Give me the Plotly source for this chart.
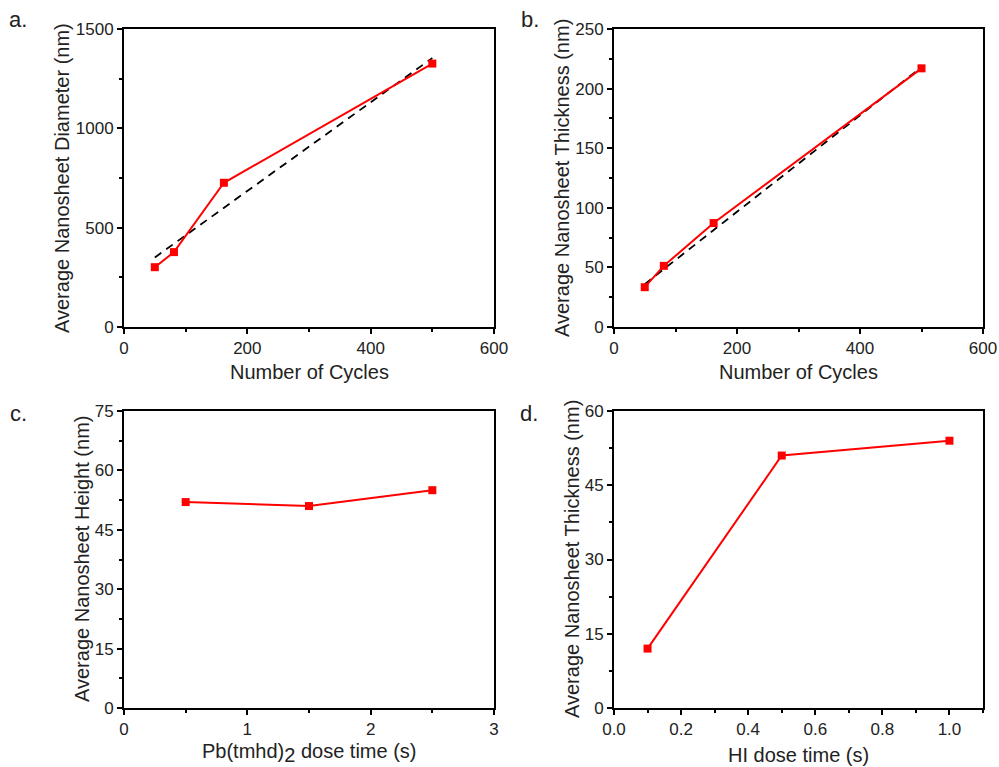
import plotly.graph_objects as go

# Panel a: diameter vs cycles
a_x = [50, 81, 162, 500]
a_y = [301, 377, 726, 1326]
a_fit_x = [50, 500]
a_fit_y = [350, 1354]

# Panel b: thickness vs cycles
b_x = [50, 81, 162, 500]
b_y = [33.4, 51.3, 87.2, 217]
b_fit_x = [50, 500]
b_fit_y = [36, 218]

# Panel c: height vs Pb(tmhd)2 dose time
c_x = [0.5, 1.5, 2.5]
c_y = [52, 51, 55]

# Panel d: thickness vs HI dose time
d_x = [0.1, 0.5, 1.0]
d_y = [12, 51, 54]

W, H = 999, 767
RED = "#ff0000"
TXT = "#222222"
FONT = "Liberation Sans, Arial, sans-serif"

fig = go.Figure()

def px_x(p):
    return p / W

def px_y(p):
    return 1 - p / H

panels = [
    dict(xd=[124, 494], yd=[29, 327]),
    dict(xd=[614, 983], yd=[29, 327]),
    dict(xd=[124, 494], yd=[411, 708]),
    dict(xd=[614, 983], yd=[411, 708]),
]

line_style = dict(color=RED, width=2)
marker_style = dict(symbol="square", size=8, color=RED)
fit_style = dict(color="black", width=1.8, dash="8px,6px")

# fits
fig.add_trace(go.Scatter(x=a_fit_x, y=a_fit_y, mode="lines", xaxis="x", yaxis="y",
                         line=fit_style, showlegend=False))
fig.add_trace(go.Scatter(x=b_fit_x, y=b_fit_y, mode="lines", xaxis="x2", yaxis="y2",
                         line=fit_style, showlegend=False))

for xs, ys, xa, ya in [(a_x, a_y, "x", "y"), (b_x, b_y, "x2", "y2"),
                       (c_x, c_y, "x3", "y3"), (d_x, d_y, "x4", "y4")]:
    fig.add_trace(go.Scatter(x=xs, y=ys, mode="lines+markers", xaxis=xa, yaxis=ya,
                             line=line_style, marker=marker_style, showlegend=False))

def axis_common(rng, dtick, minor_dtick, fmt=None):
    d = dict(range=rng, tickmode="linear", tick0=0, dtick=dtick,
             showgrid=False, zeroline=False, showline=True, mirror=True,
             linecolor="black", linewidth=2, ticks="outside", ticklen=5,
             tickwidth=1.5, tickcolor="black",
             tickfont=dict(family=FONT, size=17, color=TXT),
             minor=dict(ticks="outside", ticklen=3, tickwidth=1.5, tickcolor="black",
                        dtick=minor_dtick, tick0=0, showgrid=False),
             automargin=False, fixedrange=True)
    if fmt:
        d["tickformat"] = fmt
    return d

specs = [
    (axis_common([0, 600], 200, 100), axis_common([0, 1500], 500, 250)),
    (axis_common([0, 600], 200, 100), axis_common([0, 250], 50, 25)),
    (axis_common([0, 3], 1, 0.5), axis_common([0, 75], 15, 7.5)),
    (axis_common([0, 1.1], 0.2, 0.1, ".1f"), axis_common([0, 60], 15, 7.5)),
]

layout = dict(width=W, height=H, margin=dict(l=0, r=0, t=0, b=0),
              paper_bgcolor="white", plot_bgcolor="white",
              font=dict(family=FONT, color=TXT))
for i, (p, (xax, yax)) in enumerate(zip(panels, specs)):
    suf = "" if i == 0 else str(i + 1)
    xax["domain"] = [px_x(p["xd"][0]), px_x(p["xd"][1])]
    yax["domain"] = [px_y(p["yd"][1]), px_y(p["yd"][0])]
    xax["anchor"] = "y" + suf
    yax["anchor"] = "x" + suf
    layout["xaxis" + suf] = xax
    layout["yaxis" + suf] = yax

fig.update_layout(**layout)

ann = []
def add_text(text, x, y, size, angle=0):
    ann.append(dict(text=text, x=px_x(x), y=px_y(y), xref="paper", yref="paper",
                    showarrow=False, textangle=angle, xanchor="center", yanchor="middle",
                    font=dict(family=FONT, size=size, color=TXT)))

# panel letters
add_text("a.", 18, 20, 22)
add_text("b.", 530, 20, 22)
add_text("c.", 18, 414, 22)
add_text("d.", 529, 413, 22)

# x titles
add_text("Number of Cycles", 309, 372, 20)
add_text("Number of Cycles", 798, 372, 20)
add_text("Pb(tmhd)<sub><span style='font-size:20px'>2</span></sub> dose time (s)", 309, 753, 20)
add_text("HI dose time (s)", 798, 755, 20)

# y titles
add_text("Average Nanosheet Diameter (nm)", 62, 178, 20, -90)
add_text("Average Nanosheet Thickness (nm)", 562, 178, 20, -90)
add_text("Average Nanosheet Height (nm)", 82, 559, 20, -90)
add_text("Average Nanosheet Thickness (nm)", 572, 559, 20, -90)

fig.update_layout(annotations=ann)

fig.write_html("out.html")
